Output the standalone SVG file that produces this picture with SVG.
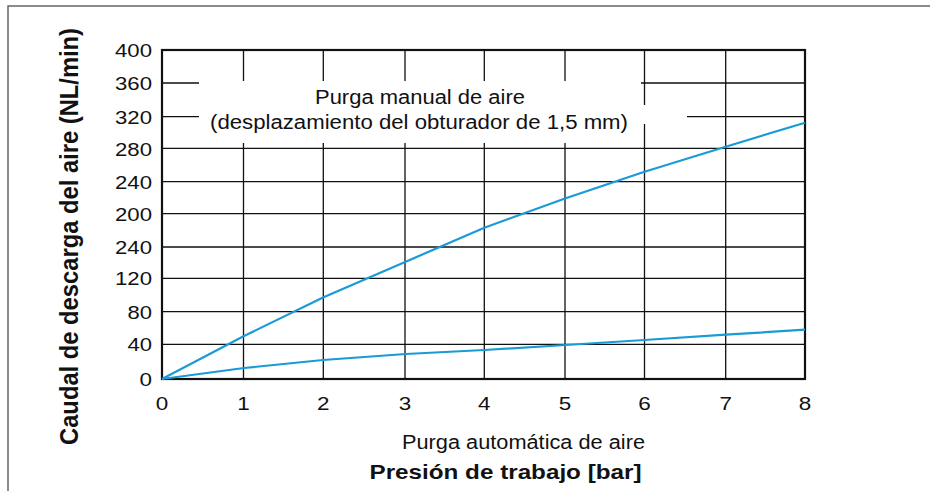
<svg xmlns="http://www.w3.org/2000/svg" width="930" height="491" viewBox="0 0 930 491">
<style>
.grid{stroke:#111;stroke-width:1.3;fill:none}
.frame{stroke:#111;stroke-width:2.2;fill:none}
.curve{stroke:#1a9ad6;stroke-width:2.2;fill:none;stroke-linejoin:round}
.tk{font-family:"Liberation Sans",Arial,sans-serif;font-size:19px;fill:#111}
.lbl{font-family:"Liberation Sans",Arial,sans-serif;font-size:20px;fill:#111}
.ttl{font-family:"Liberation Sans",Arial,sans-serif;font-size:21px;font-weight:bold;fill:#111}
</style>
<rect width="930" height="491" fill="#fff"/>
<g id="border">
<path d="M8,491 V6 H930" stroke="#666" stroke-width="1.5" fill="none"/>
</g>
<g id="grid">
<path class="grid" d="M243.5,50V379 M323.3,50V379 M405,50V379 M484.3,50V379 M565,50V379 M644.5,50V379 M725.7,50V379"/>
<path class="grid" d="M162,83H805 M162,116.7H805 M162,148.3H805 M162,181.7H805 M162,213.7H805 M162,247H805 M162,278.3H805 M162,311.7H805 M162,344.3H805"/>
<rect x="199" y="81" width="442" height="62" fill="#fff"/>
<rect x="641" y="105" width="6" height="19" fill="#fff"/>
<rect x="641" y="112" width="46" height="9" fill="#fff"/>
<rect class="frame" x="162" y="50" width="643" height="329"/>
</g>
<g id="curves">
<polyline id="manual" class="curve" points="162,379 244,336 323,297.5 405.7,261.7 484.3,227.7 565.7,198.3 644.5,171.7 725.7,146.7 805,122.7"/>
<polyline id="auto" class="curve" points="162,379 244,368 323,360 405.7,354 484.3,350 565.7,345 644.5,340 725.7,334.7 805,329.7"/>
</g>
<g id="y-ticks" text-anchor="end">
<text class="tk" x="152" y="57" textLength="37" lengthAdjust="spacingAndGlyphs">400</text>
<text class="tk" x="152" y="90" textLength="37" lengthAdjust="spacingAndGlyphs">360</text>
<text class="tk" x="152" y="123.5" textLength="37" lengthAdjust="spacingAndGlyphs">320</text>
<text class="tk" x="152" y="155.5" textLength="37" lengthAdjust="spacingAndGlyphs">280</text>
<text class="tk" x="152" y="188.7" textLength="37" lengthAdjust="spacingAndGlyphs">240</text>
<text class="tk" x="152" y="220.7" textLength="37" lengthAdjust="spacingAndGlyphs">200</text>
<text class="tk" x="152" y="254" textLength="37" lengthAdjust="spacingAndGlyphs">240</text>
<text class="tk" x="152" y="285.3" textLength="37" lengthAdjust="spacingAndGlyphs">120</text>
<text class="tk" x="152" y="318.7" textLength="24.5" lengthAdjust="spacingAndGlyphs">80</text>
<text class="tk" x="152" y="351.3" textLength="24.5" lengthAdjust="spacingAndGlyphs">40</text>
<text class="tk" x="152" y="386" textLength="12.5" lengthAdjust="spacingAndGlyphs">0</text>
</g>
<g id="x-ticks" text-anchor="middle">
<text class="tk" x="162" y="410" textLength="12.5" lengthAdjust="spacingAndGlyphs">0</text>
<text class="tk" x="243.5" y="410" textLength="12.5" lengthAdjust="spacingAndGlyphs">1</text>
<text class="tk" x="323.3" y="410" textLength="12.5" lengthAdjust="spacingAndGlyphs">2</text>
<text class="tk" x="405" y="410" textLength="12.5" lengthAdjust="spacingAndGlyphs">3</text>
<text class="tk" x="484.3" y="410" textLength="12.5" lengthAdjust="spacingAndGlyphs">4</text>
<text class="tk" x="565" y="410" textLength="12.5" lengthAdjust="spacingAndGlyphs">5</text>
<text class="tk" x="644.5" y="410" textLength="12.5" lengthAdjust="spacingAndGlyphs">6</text>
<text class="tk" x="725.7" y="410" textLength="12.5" lengthAdjust="spacingAndGlyphs">7</text>
<text class="tk" x="805" y="410" textLength="12.5" lengthAdjust="spacingAndGlyphs">8</text>
</g>
<g id="label-manual" text-anchor="middle">
<text class="lbl" x="420" y="104" textLength="210" lengthAdjust="spacingAndGlyphs">Purga manual de aire</text>
<text class="lbl" x="419" y="128.5" textLength="418" lengthAdjust="spacingAndGlyphs">(desplazamiento del obturador de 1,5 mm)</text>
</g>
<g id="label-auto" text-anchor="middle">
<text class="lbl" x="523.5" y="449" textLength="243" lengthAdjust="spacingAndGlyphs">Purga automática de aire</text>
</g>
<g id="x-title" text-anchor="middle">
<text class="ttl" x="505.5" y="478.5" textLength="272" lengthAdjust="spacingAndGlyphs">Presión de trabajo [bar]</text>
</g>
<g id="y-title" text-anchor="middle">
<text class="ttl" transform="translate(78,236.5) rotate(-90) scale(1,1.2)" x="0" y="0" textLength="417" lengthAdjust="spacingAndGlyphs">Caudal de descarga del aire (NL/min)</text>
</g>
</svg>
